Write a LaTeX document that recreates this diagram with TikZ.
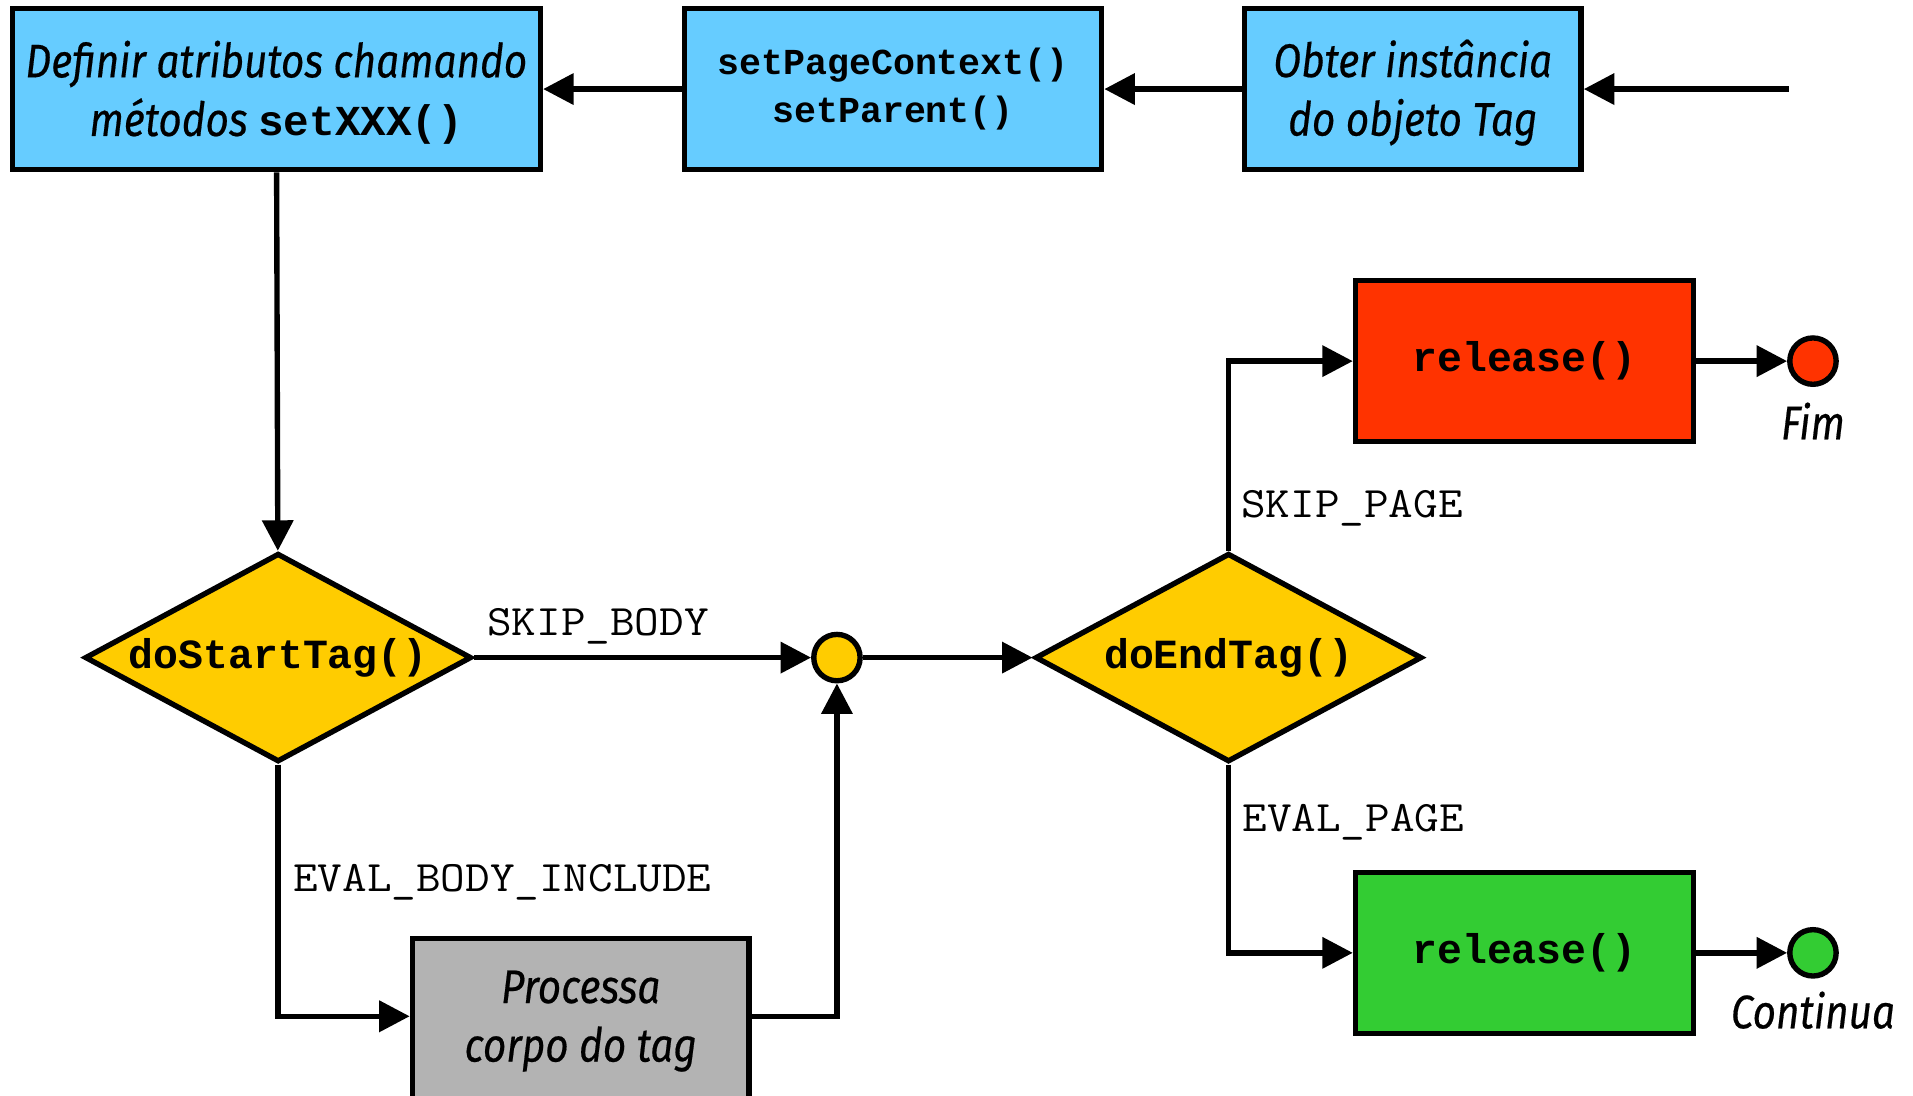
\documentclass[tikz,border=0pt]{standalone}
\usepackage{fontspec}
\setmonofont{Liberation Mono}
\newfontfamily\gill[FakeStretch=0.86,FakeBold=0.4]{Fira Sans}
\newfontfamily\courierlike[FakeStretch=1.1]{Latin Modern Mono}
\usetikzlibrary{shapes.geometric,arrows.meta}

\definecolor{boxblue}{HTML}{66CCFF}
\definecolor{decyellow}{HTML}{FFCC00}
\definecolor{endred}{HTML}{FF3300}
\definecolor{gogreen}{HTML}{33CC33}
\definecolor{bodygray}{HTML}{B3B3B3}

\tikzset{
  stepbox/.style={draw=black, line width=2.2pt, rectangle, inner sep=0pt,
    minimum width=#1},
  stepbox/.default=216pt,
  humtext/.style={font=\gill\itshape\fontsize{19.3}{23}\selectfont, align=center},
  boxtext/.style={humtext, yshift=-1.5pt},
  codebold/.style={font=\ttfamily\bfseries\fontsize{17}{20}\selectfont},
  codelabel/.style={font=\courierlike\fontsize{17.8}{20}\selectfont, inner sep=0pt},
  decision/.style={draw=black, line width=2.2pt, diamond, inner sep=0pt,
    minimum width=158.5pt, minimum height=85.5pt, fill=decyellow},
  dot/.style={draw=black, line width=2.2pt, circle, inner sep=0pt,
    minimum size=19pt},
  flow/.style={line width=2.2pt, -{Triangle[length=12.5pt,width=12.5pt]}},
}

\begin{document}
\begin{tikzpicture}[x=0.5pt, y=-0.5pt]
  \useasboundingbox (0,0) rectangle (1568,898);

  % top row of set-up steps
  \node[stepbox=216.5pt, minimum height=66pt, fill=boxblue,
        label={[boxtext]center:Definir atributos chamando\\[1pt]métodos {\upshape\ttfamily\bfseries\fontsize{17.5}{20}\selectfont setXXX()}}]
    (attrs) at (226.5,73) {};
  \node[stepbox=171pt, minimum height=66pt, fill=boxblue,
        font=\ttfamily\bfseries\fontsize{15}{20}\selectfont, align=center]
    (ctx) at (732,73) {setPageContext()\\setParent()};
  \node[stepbox=138pt, minimum height=66pt, fill=boxblue,
        label={[boxtext]center:Obter instância\\[1pt]do objeto Tag}]
    (inst) at (1158,73) {};
  \coordinate (start) at (1466,73);

  % decisions
  \node[decision, label={[codebold]center:doStartTag()}] (dstart) at (228,539) {};
  \node[dot, fill=decyellow] (join) at (686,539) {};
  \node[decision, label={[codebold]center:doEndTag()}] (dend) at (1007,539) {};

  % body processing
  \node[stepbox=138pt, minimum height=68pt, fill=bodygray, humtext,
        font=\gill\itshape\fontsize{19.3}{24}\selectfont]
    (body) at (476,837) {Processa\\corpo do tag};

  % release steps and end points
  \node[stepbox=138.5pt, minimum height=66pt, fill=endred, codebold]
    (relskip) at (1249.5,296) {release()};
  \node[stepbox=138.5pt, minimum height=66pt, fill=gogreen, codebold]
    (releval) at (1249.5,781) {release()};
  \node[dot, fill=endred] (fim) at (1486,296) {};
  \node[dot, fill=gogreen] (cont) at (1486,781) {};
  \node[humtext, inner sep=0pt] (fimtxt) at (1486,345) {Fim};
  \node[humtext, inner sep=0pt] (conttxt) at (1486,828) {Continua};

  % connectors
  \draw[flow] (start) -- (inst);
  \draw[flow] (inst) -- (ctx);
  \draw[flow] (ctx) -- (attrs);
  \draw[flow] (attrs) -- (dstart);
  \draw[flow] (dstart) -- (join);
  \draw[flow] (join) -- (dend);
  \draw[flow] (dstart.south) |- (body.west |- 0,833);
  \draw[flow] (body.east |- 0,833) -| (join.south);
  \draw[flow] (dend.north) |- (relskip.west);
  \draw[flow] (dend.south) |- (releval.west);
  \draw[flow] (relskip) -- (fim);
  \draw[flow] (releval) -- (cont);

  % return codes
  \node[codelabel, anchor=west] (lskipbody) at (399,513) {SKIP\_BODY};
  \node[codelabel, anchor=west] (levalbody) at (240,723) {EVAL\_BODY\_INCLUDE};
  \node[codelabel, anchor=west] (lskippage) at (1017,417) {SKIP\_PAGE};
  \node[codelabel, anchor=west] (levalpage) at (1018,674) {EVAL\_PAGE};
\end{tikzpicture}
\end{document}
